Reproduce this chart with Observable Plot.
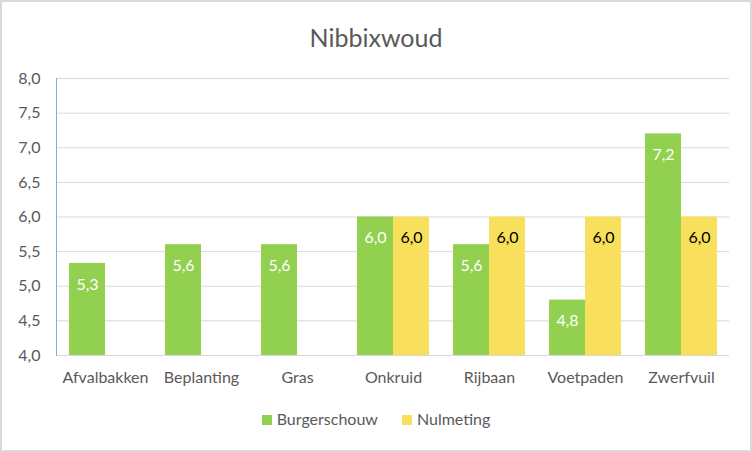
<!DOCTYPE html>
<html>
<head>
<meta charset="utf-8">
<script src="https://cdn.jsdelivr.net/npm/d3@7"></script>
<script src="https://cdn.jsdelivr.net/npm/@observablehq/plot@0.6"></script>
<style>
  html, body { margin: 0; padding: 0; background: #fff; }
  #chart {
    position: relative; width: 752px; height: 452px; box-sizing: border-box;
    border: 2px solid #d9d9d9; background: #fff; font-family: Lato, "Open Sans", sans-serif;
  }
  #title { height: 58px; line-height: 70px; text-align: center; font-size: 25px; color: #595959; }
  #legend { display: flex; justify-content: center; align-items: center; gap: 24px; font-size: 16px; color: #595959; margin-top: 14px; }
  .sw { display: inline-block; width: 10px; height: 10px; margin-right: 5px; }
  svg { display: block; }
</style>
</head>
<body>
<div id="chart">
  <div id="title">Nibbixwoud</div>
  <div id="plot"></div>
  <div id="legend"></div>
</div>
<script>
const categories = ["Afvalbakken", "Beplanting", "Gras", "Onkruid", "Rijbaan", "Voetpaden", "Zwerfvuil"];
const series = ["Burgerschouw", "Nulmeting"];
const burgerschouw = [5.33, 5.6, 5.6, 6.0, 5.6, 4.8, 7.2];
const nulmeting = [null, null, null, 6.0, 6.0, 6.0, 6.0];
const yTicks = [4.0, 4.5, 5.0, 5.5, 6.0, 6.5, 7.0, 7.5, 8.0];
const colors = ["#92d050", "#f8df5c"];

const fmt = v => v.toFixed(1).replace(".", ",");
const dataB = categories.map((c, i) => ({category: c, series: series[0], value: burgerschouw[i]}));
const dataN = categories.map((c, i) => ({category: c, series: series[1], value: nulmeting[i]})).filter(d => d.value != null);

const plot = Plot.plot({
  width: 748,
  height: 335,
  marginTop: 18,
  marginBottom: 40,
  marginLeft: 54,
  marginRight: 21,
  style: {fontFamily: "Lato, 'Open Sans', sans-serif", fontSize: "16px", color: "#595959", background: "#fff"},
  x: {domain: categories, padding: 0, label: null},
  y: {domain: [4, 8], label: null},
  color: {domain: series, range: colors},
  marks: [
    Plot.gridY(yTicks, {stroke: "#d9d9d9", strokeOpacity: 1}),
    Plot.barY(dataB, {x: "category", y1: 4, y2: "value", fill: "series", insetLeft: 12, insetRight: 48}),
    Plot.barY(dataN, {x: "category", y1: 4, y2: "value", fill: "series", insetLeft: 48, insetRight: 12}),
    Plot.text(dataB, {x: "category", y: "value", text: d => fmt(d.value), dx: -18, dy: 21, fill: "white", fontSize: 16}),
    Plot.text(dataN, {x: "category", y: "value", text: d => fmt(d.value), dx: 18, dy: 21, fill: "black", fontSize: 16}),
    Plot.frame({anchor: "left", stroke: "#86afcb"}),
    Plot.axisY({ticks: yTicks, tickFormat: fmt, tickSize: 0, tickPadding: 16, label: null, fill: "#595959"}),
    Plot.axisX({tickSize: 0, tickPadding: 16, label: null, fill: "#595959"})
  ]
});
document.getElementById("plot").appendChild(plot);

const legend = document.getElementById("legend");
series.forEach((s, i) => {
  const item = document.createElement("span");
  item.innerHTML = `<span class="sw" style="background:${colors[i]}"></span>${s}`;
  legend.appendChild(item);
});
</script>
</body>
</html>
